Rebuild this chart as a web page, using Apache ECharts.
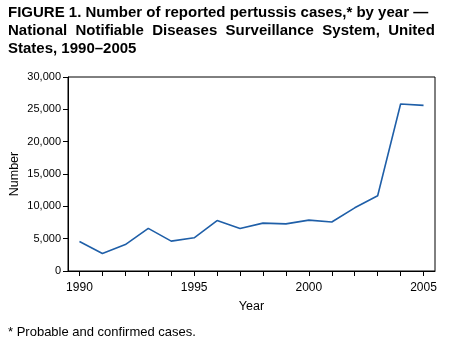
<!DOCTYPE html>
<html>
<head>
<meta charset="utf-8">
<style>html,body{margin:0;padding:0;background:#fff}#c{width:451px;height:349px}</style>
<script src="https://cdn.jsdelivr.net/npm/echarts@6/dist/echarts.min.js"></script>
</head>
<body>
<div id="c"></div>
<script>
const years = ['1990','1991','1992','1993','1994','1995','1996','1997','1998','1999','2000','2001','2002','2003','2004','2005'];
const cases = [4570, 2719, 4083, 6586, 4617, 5137, 7796, 6564, 7405, 7288, 7867, 7580, 9771, 11647, 25827, 25616];
const labeledYears = ['1990','1995','2000','2005'];
const titleLines = [
  'FIGURE 1. Number of reported pertussis cases,* by year \u2014',
  'National  Notifiable  Diseases  Surveillance  System,  United',
  'States, 1990\u20132005'
];
const footnote = '* Probable and confirmed cases.';

const chart = echarts.init(document.getElementById('c'), null, {renderer: 'canvas'});
const FONT = '"Liberation Sans", Arial, Helvetica, sans-serif';
chart.setOption({
  animation: false,
  textStyle: {fontFamily: FONT, color: '#000'},
  title: {
    text: titleLines.join('\n'),
    left: 8, top: 4,
    padding: 0,
    textStyle: {fontFamily: FONT, fontSize: 15, fontWeight: 'bold', color: '#000', lineHeight: 18}
  },
  grid: {
    left: 68, right: 16, top: 77, bottom: 78,
    outerBoundsMode: 'none',
    containLabel: false,
    show: true, borderColor: '#000', borderWidth: 1, backgroundColor: 'transparent'
  },
  xAxis: {
    type: 'category',
    data: years,
    boundaryGap: true,
    name: 'Year',
    nameLocation: 'middle',
    nameGap: 29,
    nameMoveOverlap: false,
    nameTextStyle: {fontFamily: FONT, fontSize: 12.5, color: '#000'},
    axisLine: {lineStyle: {color: '#000', width: 1}},
    axisTick: {show: true, alignWithLabel: true, interval: 0, length: 5, lineStyle: {color: '#000'}},
    axisLabel: {
      interval: 0,
      margin: 11,
      fontFamily: FONT, fontSize: 12, color: '#000',
      formatter: v => labeledYears.includes(v) ? v : ''
    },
    splitLine: {show: false}
  },
  yAxis: {
    type: 'value',
    min: 0, max: 30000, interval: 5000,
    name: 'Number',
    nameLocation: 'middle',
    nameRotate: 90,
    nameGap: 47,
    nameMoveOverlap: false,
    nameTextStyle: {fontFamily: FONT, fontSize: 12.5, color: '#000'},
    axisLine: {show: true, lineStyle: {color: '#000', width: 1}},
    axisTick: {show: true, length: 5, lineStyle: {color: '#000'}},
    axisLabel: {
      margin: 7,
      fontFamily: FONT, fontSize: 11, color: '#000',
      formatter: v => v.toLocaleString('en-US')
    },
    splitLine: {show: false}
  },
  series: [{
    type: 'line',
    data: cases,
    showSymbol: false,
    symbol: 'none',
    lineStyle: {color: '#1f5fa8', width: 1.6},
    itemStyle: {color: '#1f5fa8'}
  }],
  graphic: [{
    type: 'text',
    left: 8, top: 326,
    style: {text: footnote, fontFamily: FONT, fontSize: 13, fill: '#000'}
  }]
});
</script>
</body>
</html>
